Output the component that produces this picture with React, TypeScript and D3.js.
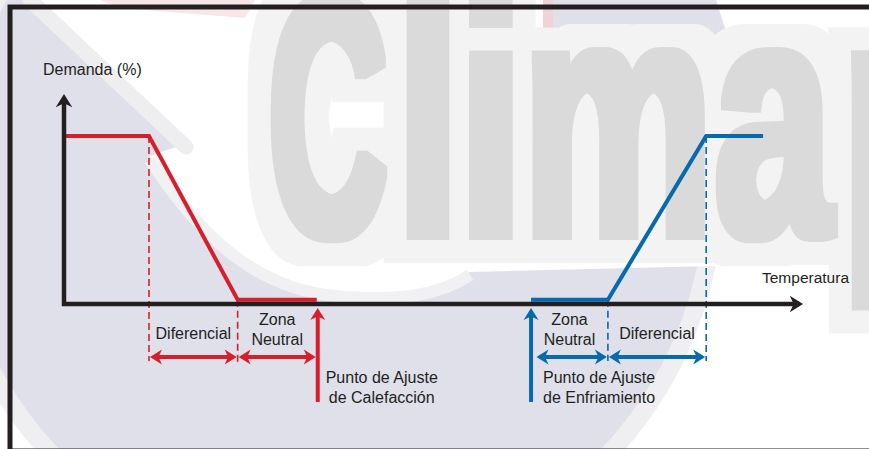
import React from 'react';
import * as d3 from 'd3';

const W = 869;
const H = 449;

// temperature on a 0..100 scale, demand in %
const heatTemp = [0, 11.5, 23.5, 34.2];
const heatDemand = [100, 100, 2.5, 2.5];
const coolTemp = [63.2, 73.6, 86.9, 94.6];
const coolDemand = [2.5, 2.5, 100, 100];

const heatSetpoint = 34.2;
const coolSetpoint = 63.2;
const heatDiff = [11.5, 23.5];
const heatZone = [23.5, 34.2];
const coolZone = [63.8, 73.6];
const coolDiff = [73.6, 86.9];

const yLabel = 'Demanda (%)';
const xLabel = 'Temperatura';
const zoneLabel = ['Zona', 'Neutral'];
const diffLabel = 'Diferencial';
const heatSetLabel = ['Punto de Ajuste', 'de Calefacción'];
const coolSetLabel = ['Punto de Ajuste', 'de Enfriamiento'];

const RED = '#d71f2b';
const BLUE = '#0769ae';
const INK = '#231f20';
const FONT = '"Liberation Sans", Arial, sans-serif';

// watermark letters: char, left x, horizontal squeeze
const wm = [
  { ch: 'C', x: 269, s: 0.48 },
  { ch: 'l', x: 395, s: 0.7 },
  { ch: 'i', x: 457, s: 0.72 },
  { ch: 'm', x: 522.6, s: 0.63 },
  { ch: 'a', x: 714.6, s: 0.62 },
  { ch: 'p', x: 842.5, s: 0.6 },
];

const x = d3.scaleLinear().domain([0, 100]).range([64, 803]);
const y = d3.scaleLinear().domain([0, 125]).range([304, 94]);

const pathOf = (ts: number[], ds: number[]) =>
  d3
    .line<number>()
    .x((_, i) => x(ts[i]))
    .y((_, i) => y(ds[i]))(ts) || '';

const Head = ({ tx, ty, a, c, s = 1 }: { tx: number; ty: number; a: number; c: string; s?: number }) => (
  <path
    d="M0,0 L-12,-7.5 L-8.5,0 L-12,7.5 Z"
    transform={`translate(${tx},${ty}) rotate(${a}) scale(${s})`}
    fill={c}
  />
);

const DoubleArrow = ({ a, b, yy, c }: { a: number; b: number; yy: number; c: string }) => (
  <g>
    <line x1={x(a) + 4} x2={x(b) - 4} y1={yy} y2={yy} stroke={c} strokeWidth={4} />
    <Head tx={x(a) + 1} ty={yy} a={180} c={c} />
    <Head tx={x(b) - 1} ty={yy} a={0} c={c} />
  </g>
);

const Dash = ({ t, d, y2, c }: { t: number; d: number; y2: number; c: string }) => (
  <line x1={x(t)} x2={x(t)} y1={y(d)} y2={y2} stroke={c} strokeWidth={1.6} strokeDasharray="7,4" />
);

const Watermark = () => {
  const fs = 340;
  const base = 235;
  const letters = (fill: string) =>
    wm.map((l) => (
      <text
        key={l.ch}
        transform={`translate(${l.x},${base}) scale(${l.s},1)`}
        fontFamily={FONT}
        fontWeight="bold"
        fontSize={fs}
        fill={fill}
      >
        {l.ch}
      </text>
    ));
  return (
    <g>
      <defs>
        <filter id="halo" filterUnits="userSpaceOnUse" x={0} y={-60} width={W + 60} height={H + 120}>
          <feMorphology operator="dilate" radius={28} />
        </filter>
        <filter id="thick" filterUnits="userSpaceOnUse" x={0} y={-60} width={W + 60} height={H + 120}>
          <feMorphology operator="dilate" radius={5} />
        </filter>
      </defs>
      <circle cx={330} cy={190} r={384} fill="none" stroke="#efeff2" strokeWidth={18} />
      <circle cx={330} cy={190} r={375} fill="#dfe0ea" />
      <path
        d="M40,0 L190,142 L150,156 C200,232 255,285 335,293 C400,299 440,292 470,272 L869,262 L869,0 Z"
        fill="#ffffff"
      />
      <line x1={30} y1={0} x2={186} y2={147} stroke="#eeeef0" strokeWidth={15} strokeLinecap="round" />
      <path d="M150,160 C200,236 255,288 335,296 C400,302 440,295 470,275" fill="none" stroke="#f1f1f3" strokeWidth={12} />
      <path d="M100,0 L255,0 L245,18 L120,8 Z" fill="#f7e7e9" />
      <path d="M543,0 L716,0 L735,60 L543,60 Z" fill="#dfe0ea" />
      <rect x={543} y={0} width={10} height={34} fill="#efd3d7" />
      <g filter="url(#halo)">{letters('#f3f3f3')}</g>
      <g filter="url(#thick)">{letters('#dadada')}</g>
    </g>
  );
};

export default function App() {
  const x0 = x(0);
  const y0 = y(0);
  const arrowY = 357;
  return (
    <svg
      width={W}
      height={H}
      viewBox={`0 0 ${W} ${H}`}
      style={{ position: 'absolute', left: 0, top: 0, background: '#fff' }}
    >
      <rect x={0} y={0} width={W} height={H} fill="#fff" />
      <Watermark />

      {/* dashed guides */}
      <Dash t={heatDiff[0]} d={100} y2={361} c={RED} />
      <Dash t={heatDiff[1]} d={2.5} y2={362} c={RED} />
      <Dash t={coolDiff[0]} d={2.5} y2={361} c={BLUE} />
      <Dash t={coolDiff[1]} d={100} y2={361} c={BLUE} />

      {/* demand curves */}
      <path d={pathOf(heatTemp, heatDemand)} fill="none" stroke={RED} strokeWidth={4} strokeLinejoin="miter" />
      <path d={pathOf(coolTemp, coolDemand)} fill="none" stroke={BLUE} strokeWidth={4} strokeLinejoin="miter" />

      {/* axes */}
      <line x1={x0 - 2} x2={x(100) - 4} y1={y0} y2={y0} stroke={INK} strokeWidth={4.5} />
      <line x1={x0} x2={x0} y1={y0 + 2} y2={y(125) + 4} stroke={INK} strokeWidth={4.5} />
      <Head tx={x(100)} ty={y0} a={0} c={INK} s={1.1} />
      <Head tx={x0} ty={y(125)} a={-90} c={INK} s={1.1} />

      {/* span arrows */}
      <DoubleArrow a={heatDiff[0]} b={heatDiff[1]} yy={arrowY} c={RED} />
      <DoubleArrow a={heatZone[0]} b={heatZone[1]} yy={arrowY} c={RED} />
      <DoubleArrow a={coolZone[0]} b={coolZone[1]} yy={arrowY} c={BLUE} />
      <DoubleArrow a={coolDiff[0]} b={coolDiff[1]} yy={arrowY} c={BLUE} />

      {/* setpoint arrows */}
      <line x1={x(heatSetpoint) + 1} x2={x(heatSetpoint) + 1} y1={402} y2={314} stroke={RED} strokeWidth={4} />
      <Head tx={x(heatSetpoint) + 1} ty={308} a={-90} c={RED} />
      <line x1={x(coolSetpoint)} x2={x(coolSetpoint)} y1={402} y2={314} stroke={BLUE} strokeWidth={4} />
      <Head tx={x(coolSetpoint)} ty={308} a={-90} c={BLUE} />

      <g fontFamily={FONT} fontSize={16} fill={INK}>
        <text x={43} y={75}>{yLabel}</text>
        <text x={762} y={283} fontSize={15.5}>{xLabel}</text>

        <text x={(x(heatDiff[0]) + x(heatDiff[1])) / 2} y={339} textAnchor="middle">{diffLabel}</text>
        <text x={(x(heatZone[0]) + x(heatZone[1])) / 2} y={325} textAnchor="middle">{zoneLabel[0]}</text>
        <text x={(x(heatZone[0]) + x(heatZone[1])) / 2} y={345} textAnchor="middle">{zoneLabel[1]}</text>
        <text x={x(heatSetpoint) + 65} y={383} textAnchor="middle">{heatSetLabel[0]}</text>
        <text x={x(heatSetpoint) + 65} y={403} textAnchor="middle">{heatSetLabel[1]}</text>

        <text x={(x(coolSetpoint) + x(coolDiff[0])) / 2} y={325} textAnchor="middle">{zoneLabel[0]}</text>
        <text x={(x(coolSetpoint) + x(coolDiff[0])) / 2} y={345} textAnchor="middle">{zoneLabel[1]}</text>
        <text x={(x(coolDiff[0]) + x(coolDiff[1])) / 2} y={339} textAnchor="middle">{diffLabel}</text>
        <text x={x(coolSetpoint) + 12} y={383}>{coolSetLabel[0]}</text>
        <text x={x(coolSetpoint) + 12} y={403}>{coolSetLabel[1]}</text>
      </g>

      {/* frame */}
      <rect x={10} y={7} width={W + 10} height={H - 5} fill="none" stroke={INK} strokeWidth={5} />
    </svg>
  );
}
